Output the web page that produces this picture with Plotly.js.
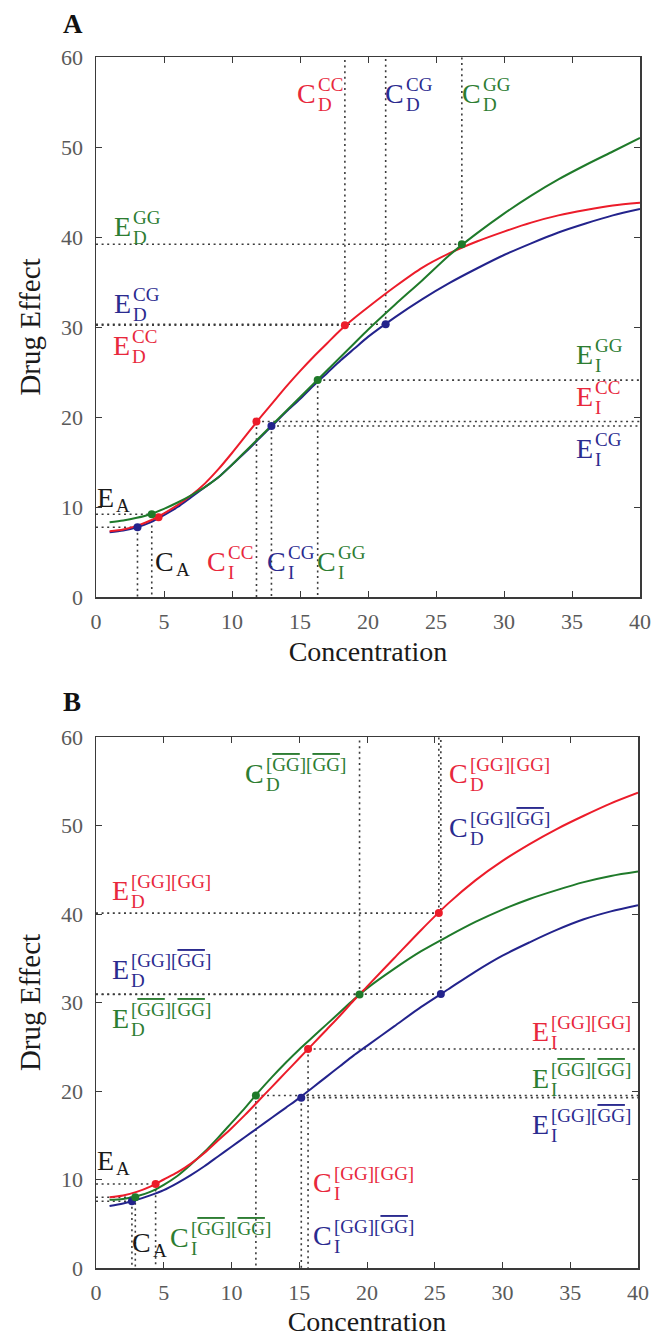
<!DOCTYPE html>
<html>
<head>
<meta charset="utf-8">
<script src="https://cdn.plot.ly/plotly-3.0.1.min.js"></script>
<style>html,body{margin:0;padding:0;background:#fff;}#chart{width:655px;height:1337px;}</style>
</head>
<body>
<div id="chart"></div>
<script>
// ---------- data ----------
const concA = [1,2,3,4,5,6,7,8,9,10,11,12,13,14,15,16,17,18,19,20,22,24,26,28,30,32,34,36,38,40];
const effA_CC = [7.3,7.5,7.9,8.5,9.3,10.2,11.3,12.6,14.2,16.0,17.9,19.8,21.6,23.4,25.1,26.7,28.2,29.7,31.0,32.2,34.5,36.6,38.2,39.5,40.6,41.6,42.4,43.0,43.5,43.8];
const effA_CG = [7.2,7.4,7.75,8.3,9.1,10.0,11.1,12.2,13.3,14.7,16.1,17.6,19.1,20.6,22.0,23.5,24.9,26.3,27.6,28.9,31.1,33.1,34.9,36.5,38.0,39.3,40.5,41.5,42.4,43.1];
const effA_GG = [8.3,8.5,8.8,9.2,9.8,10.5,11.3,12.2,13.3,14.7,16.2,17.7,19.2,20.7,22.2,23.7,25.2,26.7,28.2,29.7,32.5,35.2,38.0,40.4,42.6,44.6,46.4,48.0,49.5,51.0];

const concB = [1,2,3,4,5,6,7,8,9,10,11,12,13,14,15,16,17,18,19,20,22,24,26,28,30,32,34,36,38,40];
const effB_GGGG = [8.0,8.2,8.6,9.2,10.0,10.8,11.8,13.0,14.4,15.8,17.3,18.9,20.5,22.1,23.7,25.3,26.9,28.5,30.2,31.8,35.0,38.2,41.2,43.8,46.0,47.9,49.6,51.1,52.5,53.7];
const effB_GGbar = [7.0,7.3,7.7,8.2,8.8,9.6,10.5,11.5,12.6,13.7,14.8,15.9,17.0,18.1,19.2,20.4,21.6,22.8,24.0,25.1,27.3,29.5,31.5,33.5,35.3,36.8,38.2,39.4,40.3,41.0];
const effB_barbar = [7.7,7.8,8.1,8.6,9.4,10.4,11.7,13.1,14.7,16.4,18.1,19.9,21.6,23.2,24.7,26.1,27.5,28.9,30.3,31.6,33.8,35.8,37.5,39.1,40.5,41.7,42.7,43.6,44.3,44.8];

// key points: [E_A point, C_I/E_I point, C_D/E_D point]
const ptsA_CC_x = [4.6, 11.8, 18.3],  ptsA_CC_y = [8.85, 19.5, 30.2];
const ptsA_CG_x = [3.05, 12.9, 21.3], ptsA_CG_y = [7.75, 19.0, 30.3];
const ptsA_GG_x = [4.1, 16.3, 26.9],  ptsA_GG_y = [9.2, 24.1, 39.2];
const ptsB_GGGG_x = [4.4, 15.65, 25.3],   ptsB_GGGG_y = [9.5, 24.75, 40.1];
const ptsB_GGbar_x = [2.65, 15.15, 25.45], ptsB_GGbar_y = [7.55, 19.25, 30.95];
const ptsB_barbar_x = [2.9, 11.8, 19.45],  ptsB_barbar_y = [8.0, 19.5, 30.9];

const xTicks = [0,5,10,15,20,25,30,35,40];
const yTicks = [0,10,20,30,40,50,60];

// ---------- style ----------
const RED = '#ec1c2a', GREEN = '#1f7a2a', BLUE = '#23238c';
const TRED = '#e8283c', TGREEN = '#2d7d32', TBLUE = '#2b2b8f', TBLACK = '#1a1a1a';
const SERIF = 'Liberation Serif';
const X_MAX = 40, Y_MAX = 60;

function curve(x, y, color, xa, ya) {
  return {x: x, y: y, type: 'scatter', mode: 'lines', line: {color: color, width: 2, shape: 'spline', smoothing: 0.8},
          xaxis: xa, yaxis: ya, hoverinfo: 'skip', showlegend: false};
}
function pts(x, y, color, xa, ya) {
  return {x: x, y: y, type: 'scatter', mode: 'markers', marker: {color: color, size: 8, symbol: 'circle'},
          xaxis: xa, yaxis: ya, hoverinfo: 'skip', showlegend: false};
}
function guides(sets, xa, ya) {
  const gx = [], gy = [];
  function seg(x0, x1, y0, y1) { gx.push(x0, x1, null); gy.push(y0, y1, null); }
  sets.forEach(s => {
    const px = s[0], py = s[1], withA = s[2];
    if (withA) { seg(0, px[0], py[0], py[0]); seg(px[0], px[0], py[0], 0); }
    seg(px[1], px[1], py[1], 0); seg(px[1], X_MAX, py[1], py[1]);
    seg(px[2], px[2], py[2], Y_MAX); seg(0, px[2], py[2], py[2]);
  });
  return {x: gx, y: gy, type: 'scatter', mode: 'lines', connectgaps: false,
          line: {color: '#3c3c3c', width: 1.6, dash: '2px,3.6px'}, xaxis: xa, yaxis: ya, hoverinfo: 'skip', showlegend: false};
}

const traces = [
  guides([[ptsA_CC_x, ptsA_CC_y, false], [ptsA_CG_x, ptsA_CG_y, true], [ptsA_GG_x, ptsA_GG_y, true]], 'x', 'y'),
  curve(concA, effA_CG, BLUE, 'x', 'y'),
  curve(concA, effA_CC, RED, 'x', 'y'),
  curve(concA, effA_GG, GREEN, 'x', 'y'),
  pts(ptsA_CG_x, ptsA_CG_y, BLUE, 'x', 'y'),
  pts(ptsA_CC_x, ptsA_CC_y, RED, 'x', 'y'),
  pts(ptsA_GG_x, ptsA_GG_y, GREEN, 'x', 'y'),

  guides([[ptsB_GGGG_x, ptsB_GGGG_y, true], [ptsB_GGbar_x, ptsB_GGbar_y, true], [ptsB_barbar_x, ptsB_barbar_y, true]], 'x2', 'y2'),
  curve(concB, effB_GGbar, BLUE, 'x2', 'y2'),
  curve(concB, effB_barbar, GREEN, 'x2', 'y2'),
  curve(concB, effB_GGGG, RED, 'x2', 'y2'),
  pts(ptsB_GGbar_x, ptsB_GGbar_y, BLUE, 'x2', 'y2'),
  pts(ptsB_barbar_x, ptsB_barbar_y, GREEN, 'x2', 'y2'),
  pts(ptsB_GGGG_x, ptsB_GGGG_y, RED, 'x2', 'y2')
];

// ---------- labels ----------
const OV = s => '<span style="text-decoration:overline">' + s + '</span>';
const S_GGGG = '[GG][GG]';
const S_GGbar = '[GG][' + OV('GG') + ']';
const S_barbar = '[' + OV('GG') + '][' + OV('GG') + ']';

// [main, sub, sup, color, x, y]
const labelsA = [
  ['C','D','CC',TRED,16.25,56.0], ['C','D','CG',TBLUE,22.75,56.0], ['C','D','GG',TGREEN,28.4,56.0],
  ['E','D','GG',TGREEN,2.65,41.2], ['E','D','CG',TBLUE,2.65,32.6], ['E','D','CC',TRED,2.6,27.9],
  ['E','I','GG',TGREEN,36.6,27.0], ['E','I','CC',TRED,36.6,22.3], ['E','I','CG',TBLUE,36.6,16.5],
  ['E','A','',TBLACK,1.37,11.1], ['C','A','',TBLACK,5.8,3.9],
  ['C','I','CC',TRED,9.6,3.9], ['C','I','CG',TBLUE,14.05,3.9], ['C','I','GG',TGREEN,17.7,3.9]
];
const labelsB = [
  ['C','D',S_barbar,TGREEN,12.5,55.9], ['C','D',S_GGGG,TRED,27.5,55.9], ['C','D',S_GGbar,TBLUE,27.5,49.8],
  ['E','D',S_GGGG,TRED,2.5,42.7], ['E','D',S_GGbar,TBLUE,2.5,33.7], ['E','D',S_barbar,TGREEN,2.5,28.2],
  ['E','I',S_GGGG,TRED,33.5,26.7], ['E','I',S_barbar,TGREEN,33.5,21.4], ['E','I',S_GGbar,TBLUE,33.5,16.2],
  ['E','A','',TBLACK,1.4,12.2], ['C','A','',TBLACK,4.15,2.9],
  ['C','I',S_barbar,TGREEN,6.9,3.5], ['C','I',S_GGGG,TRED,17.5,9.7], ['C','I',S_GGbar,TBLUE,17.5,3.7]
];

function makeLabels(list, xr, yr) {
  const out = [];
  list.forEach(l => {
    const [main, sub, sup, col, x, y] = l;
    const base = {xref: xr, yref: yr, x: x, y: y, showarrow: false, borderpad: 0, yanchor: 'middle'};
    out.push(Object.assign({}, base, {text: main, xanchor: 'right', font: {family: SERIF, size: 28, color: col}}));
    out.push(Object.assign({}, base, {text: sub, xanchor: 'left', yshift: sup ? -11 : -8, font: {family: SERIF, size: 19, color: col}}));
    if (sup) out.push(Object.assign({}, base, {text: sup, xanchor: 'left', yshift: 9, font: {family: SERIF, size: 19, color: col}}));
  });
  return out;
}

const annotations = [].concat(
  makeLabels(labelsA, 'x', 'y'),
  makeLabels(labelsB, 'x2', 'y2'),
  [
    {xref: 'paper', yref: 'paper', x: 73/655, y: 1 - 24/1337, text: '<b>A</b>', showarrow: false,
     xanchor: 'center', yanchor: 'middle', font: {family: SERIF, size: 27, color: '#111'}},
    {xref: 'paper', yref: 'paper', x: 72/655, y: 1 - 702/1337, text: '<b>B</b>', showarrow: false,
     xanchor: 'center', yanchor: 'middle', font: {family: SERIF, size: 27, color: '#111'}}
  ]
);

function xax(domain, anchor) {
  return {domain: domain, anchor: anchor, range: [0, X_MAX], tickmode: 'array', tickvals: xTicks,
    showline: true, linecolor: '#3a3a3a', linewidth: 1.5, mirror: 'ticks', ticks: 'inside', ticklen: 6,
    tickcolor: '#3a3a3a', showgrid: false, zeroline: false, ticklabelstandoff: 4,
    tickfont: {family: SERIF, size: 22, color: '#5a5a5a'},
    title: {text: 'Concentration', font: {family: SERIF, size: 28, color: '#1a1a1a'}, standoff: 8}, fixedrange: true};
}
function yax(domain, anchor) {
  return {domain: domain, anchor: anchor, range: [0, Y_MAX], tickmode: 'array', tickvals: yTicks,
    showline: true, linecolor: '#3a3a3a', linewidth: 1.5, mirror: 'ticks', ticks: 'inside', ticklen: 6,
    tickcolor: '#3a3a3a', showgrid: false, zeroline: false, ticklabelstandoff: 7,
    tickfont: {family: SERIF, size: 22, color: '#5a5a5a'},
    title: {text: 'Drug Effect', font: {family: SERIF, size: 29, color: '#1a1a1a'}, standoff: 12}, fixedrange: true};
}

const layout = {
  width: 655, height: 1337,
  margin: {l: 0, r: 0, t: 0, b: 0, pad: 0},
  paper_bgcolor: '#fff', plot_bgcolor: '#fff',
  showlegend: false,
  xaxis: xax([96/655, 640/655], 'y'),
  yaxis: yax([1 - 597/1337, 1 - 57/1337], 'x'),
  xaxis2: xax([96/655, 638/655], 'y2'),
  yaxis2: yax([1 - 1268/1337, 1 - 737/1337], 'x2'),
  annotations: annotations
};

Plotly.newPlot('chart', traces, layout, {displayModeBar: false, staticPlot: true});
</script>
</body>
</html>
